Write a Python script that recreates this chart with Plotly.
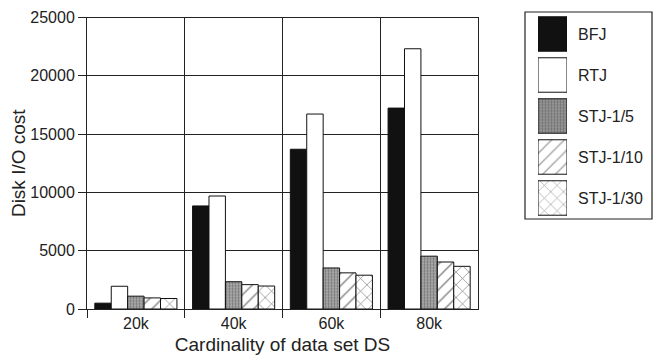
import plotly.graph_objects as go

# page body has an 8px margin; place everything in page pixels minus that offset
OFF = 8
W, H = 661 - 2 * OFF, 363 - 2 * OFF
def px(x):
    return (x - OFF) / W
def py(y):
    return 1 - (y - OFF) / H

categories = ["20k", "40k", "60k", "80k"]
series_names = ["BFJ", "RTJ", "STJ-1/5", "STJ-1/10", "STJ-1/30"]
bfj = [500, 8840, 13700, 17230]
rtj = [1950, 9690, 16720, 22320]
stj_5 = [1100, 2340, 3520, 4530]
stj_10 = [950, 2090, 3100, 4030]
stj_30 = [900, 1970, 2900, 3660]
series_values = [bfj, rtj, stj_5, stj_10, stj_30]
y_ticks = [0, 5000, 10000, 15000, 20000, 25000]

styles = [
    dict(color="#111111", pattern=dict(shape="")),
    dict(color="white", pattern=dict(shape="")),
    dict(color="#9a9a9a", pattern=dict(shape=".", fgcolor="#3a3a3a", bgcolor="#b0b0b0", size=3, solidity=0.45)),
    dict(color="white", pattern=dict(shape="/", fgcolor="#000000", bgcolor="white", size=9, solidity=0.15)),
    dict(color="white", pattern=dict(shape="x", fgcolor="#000000", bgcolor="white", size=9, solidity=0.15)),
]

fig = go.Figure()
for name, vals, st in zip(series_names, series_values, styles):
    fig.add_trace(go.Bar(
        x=categories, y=vals, name=name,
        marker=dict(color=st["color"], pattern=st["pattern"],
                    line=dict(color="#111111", width=1)),
        showlegend=False, xaxis="x", yaxis="y",
    ))

# custom legend drawn as a small bar chart
fig.add_trace(go.Bar(
    y=series_names, x=[1] * len(series_names), orientation="h",
    marker=dict(
        color=[s["color"] for s in styles],
        pattern=dict(
            shape=[s["pattern"]["shape"] for s in styles],
            fgcolor=[s["pattern"].get("fgcolor", "#111111") for s in styles],
            bgcolor=[s["pattern"].get("bgcolor", s["color"]) for s in styles],
            size=[s["pattern"].get("size", 8) for s in styles],
            solidity=[s["pattern"].get("solidity", 0.3) for s in styles],
        ),
        line=dict(color="#111111", width=1),
    ),
    showlegend=False, xaxis="x2", yaxis="y2", hoverinfo="skip",
))

font = dict(family="Liberation Sans", size=16, color="#222222")

fig.update_layout(
    width=W, height=H,
    margin=dict(l=0, r=0, t=0, b=0),
    paper_bgcolor="white", plot_bgcolor="white",
    font=font,
    barmode="group", bargap=0.16, bargroupgap=0,
    xaxis=dict(
        domain=[px(87), px(478)], type="category",
        tickson="boundaries", ticks="outside", ticklen=8, tickcolor="#222",
        ticklabelstandoff=0,
        showgrid=True, gridcolor="#222222", gridwidth=1,
        showline=True, linecolor="#222222", linewidth=1, mirror=True,
        title=dict(text="Cardinality of data set DS", standoff=8),
        automargin=False, anchor="y",
    ),
    yaxis=dict(
        domain=[py(309), py(17.5)], range=[0, 25000],
        tickvals=y_ticks, ticktext=[str(v) for v in y_ticks],
        ticks="outside", ticklen=8, tickcolor="#222",
        ticklabeloverflow="allow",
        showgrid=True, gridcolor="#222222", gridwidth=1,
        showline=True, linecolor="#222222", linewidth=1, mirror=True,
        zeroline=False,
        title=dict(text="Disk I/O cost", standoff=2),
        automargin=False, anchor="x",
    ),
    xaxis2=dict(
        domain=[px(538), px(567)], range=[0, 1],
        visible=False, anchor="y2", fixedrange=True,
    ),
    yaxis2=dict(
        domain=[py(218.5), py(13.5)], type="category",
        autorange="reversed", side="right", anchor="x2",
        showgrid=False, showline=False, ticks="", ticklabelstandoff=10,
        automargin=False,
    ),
    shapes=[dict(
        type="rect", xref="paper", yref="paper",
        x0=px(525), x1=px(652), y0=py(219), y1=py(12),
        line=dict(color="#222222", width=1.2), fillcolor="rgba(0,0,0,0)",
        layer="below",
    )],
)

fig.write_html("out.html")
